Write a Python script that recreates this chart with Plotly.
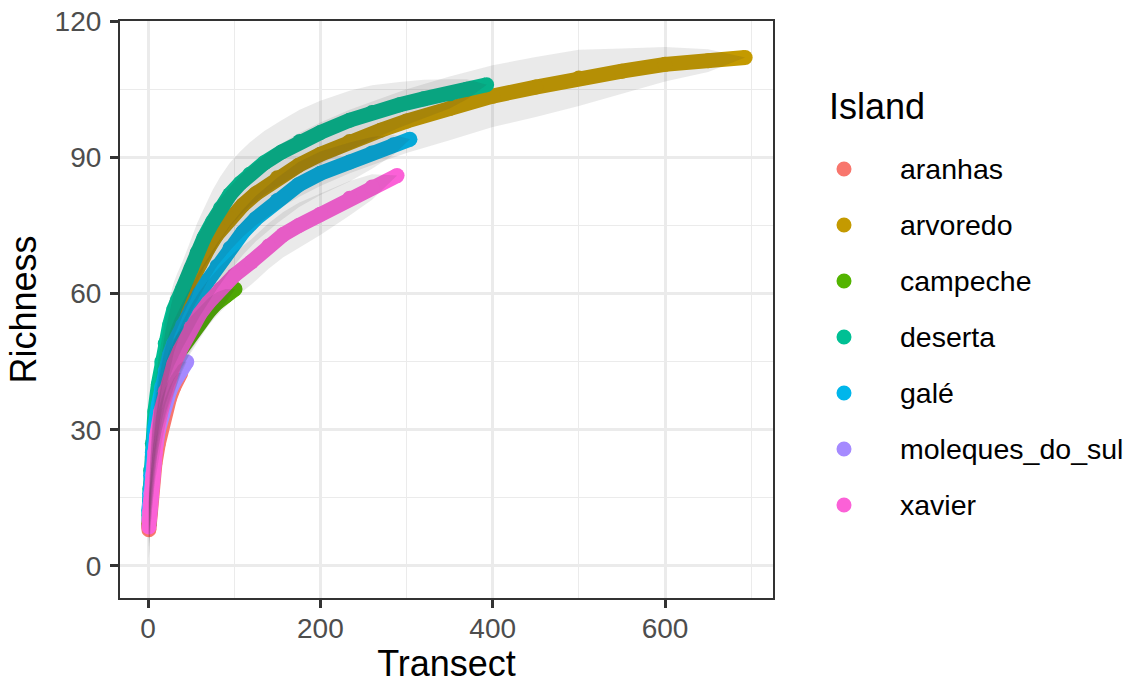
import plotly.graph_objects as go

# Island names and their discrete hue palette
islands = ["aranhas", "arvoredo", "campeche", "deserta", "galé", "moleques_do_sul", "xavier"]
island_colors = ["#F8766D", "#C49A00", "#53B400", "#00C094", "#00B6EB", "#A58AFF", "#FB61D7"]

# Species accumulation: transect count, mean richness and standard deviation
aranhas_transect = [1, 2, 3, 5, 8, 12, 16, 20, 25, 30, 35, 38]
aranhas_richness = [8, 11, 13.5, 17, 22.5, 27, 31, 34, 37, 39.5, 41.5, 42.5]
aranhas_sd = [6.5, 5, 4.5, 4, 4, 3.8, 3.5, 3, 2.5, 1.8, 1, 0]

arvoredo_transect = [1, 2, 3, 5, 8, 12, 16, 20, 25, 30, 40, 50, 60, 70, 80, 95, 110, 125, 150,
                     175, 200, 234, 270, 300, 350, 400, 450, 500, 550, 600, 650, 693]
arvoredo_richness = [9, 14, 18, 24, 30, 36, 41, 45, 49.5, 53.5, 59, 63, 66.5, 70, 73, 76.5, 79.5,
                     82, 85.5, 88.3, 90.7, 93.5, 96, 98, 100.8, 103.5, 105.5, 107.5, 109, 110.5,
                     111.3, 112]
arvoredo_sd = [5, 5, 5.5, 5.5, 6, 6, 6, 6.5, 6.5, 6.5, 6.5, 7, 7, 7, 7, 7, 7, 7, 7, 7, 7, 7, 7,
               7, 7, 6.8, 6.6, 6.2, 5, 3.8, 2.5, 0]

campeche_transect = [1, 2, 3, 5, 8, 12, 16, 20, 25, 30, 40, 50, 60, 70, 80, 90, 101]
campeche_richness = [9, 13, 16, 21, 27, 32.5, 36.5, 40, 43, 45.5, 48.5, 51, 53.5, 56, 58, 59.5, 61]
campeche_sd = [5, 4.5, 4.5, 4.5, 4.5, 4.5, 4.5, 4.5, 4.5, 4.5, 4.2, 4, 3.5, 3, 2.3, 1.5, 0]

deserta_transect = [1, 2, 3, 5, 8, 12, 16, 20, 25, 30, 34, 40, 50, 57, 65, 75, 84, 95, 107, 118,
                    135, 155, 176, 200, 234, 260, 292, 320, 350, 370, 393]
deserta_richness = [11, 17, 21, 27, 34, 40, 45, 49, 53, 56.5, 58.5, 61, 65.5, 69, 72.3, 75.8,
                    78.8, 81.8, 84.3, 86.3, 88.8, 91.2, 93.5, 95.5, 98.2, 99.9, 101.6, 102.9, 104,
                    105, 106]
deserta_sd = [5, 5, 5, 5, 5, 5.5, 5.5, 5.5, 6, 6, 6, 6, 6.5, 6.5, 6.5, 7, 7, 7, 7, 7, 7, 7, 7,
              7, 6.5, 6, 5, 4.2, 3.2, 2.2, 0]

gale_transect = [1, 2, 3, 5, 8, 12, 16, 20, 25, 30, 40, 50, 60, 70, 80, 95, 110, 125, 150, 175,
                 200, 234, 260, 285, 304]
gale_richness = [12, 16, 20, 25, 30.5, 35.5, 39.5, 43, 46.5, 49, 53, 56.5, 60, 63, 66, 70, 73.5,
                 76.5, 80.5, 84, 86.5, 89, 91, 92.8, 94]
gale_sd = [5, 5, 5, 5, 5, 5, 5, 5, 5, 5, 5, 5, 5, 5, 5, 5, 5, 5, 5, 5, 4.8, 4.3, 3.5, 2.2, 0]

moleques_transect = [1, 2, 3, 5, 8, 12, 16, 20, 25, 30, 35, 40, 45]
moleques_richness = [10, 13.5, 16, 20, 25, 30, 33.5, 36, 38.5, 40.5, 42.5, 44, 45]
moleques_sd = [5, 4.5, 4.5, 4.5, 4, 4, 3.5, 3.2, 2.8, 2.3, 1.7, 1, 0]

xavier_transect = [1, 2, 3, 5, 8, 10, 15, 20, 30, 37, 50, 60, 70, 84, 100, 120, 140, 157, 175,
                   200, 234, 260, 289]
xavier_richness = [8.6, 12, 14.5, 18.5, 25, 28.5, 34, 38.5, 44.5, 47.5, 52.5, 55.5, 58, 61, 64,
                   67, 70.5, 73, 75, 77.5, 81, 83.5, 86]
xavier_sd = [7, 6, 5.5, 5, 5, 5, 5, 5, 5, 5, 5, 5, 5, 5, 5, 5, 5, 5, 5, 4.6, 3.8, 2.8, 0]

curves = {
    "aranhas": (aranhas_transect, aranhas_richness, aranhas_sd),
    "arvoredo": (arvoredo_transect, arvoredo_richness, arvoredo_sd),
    "campeche": (campeche_transect, campeche_richness, campeche_sd),
    "deserta": (deserta_transect, deserta_richness, deserta_sd),
    "galé": (gale_transect, gale_richness, gale_sd),
    "moleques_do_sul": (moleques_transect, moleques_richness, moleques_sd),
    "xavier": (xavier_transect, xavier_richness, xavier_sd),
}

FONT = "Liberation Sans, Arial, sans-serif"
W, H = 1135, 684
M_L, M_R, M_T, M_B = 120, 362, 21, 86
PLOT_W, PLOT_H = W - M_L - M_R, H - M_T - M_B


def paper_x(px):
    return (px - M_L) / PLOT_W


def paper_y(py):
    return (H - M_B - py) / PLOT_H


fig = go.Figure()

# Thick point trails for every island
for name, col in zip(islands, island_colors):
    t, r, _ = curves[name]
    fig.add_trace(go.Scatter(
        x=t, y=r, mode="lines+markers", name=name, showlegend=False,
        line=dict(color=col, width=15), marker=dict(color=col, size=15),
        hoverinfo="skip"))

# Translucent ±sd ribbons laid over the points
for name in islands:
    t, r, s = curves[name]
    upper = [m + d for m, d in zip(r, s)]
    lower = [max(m - d, 0) for m, d in zip(r, s)]
    fig.add_trace(go.Scatter(
        x=list(t) + list(t)[::-1], y=upper + lower[::-1], mode="lines", fill="toself",
        fillcolor="rgba(51,51,51,0.1)", line=dict(width=0), showlegend=False,
        hoverinfo="skip"))

# Legend: title, colour keys and island labels
legend_shapes = []
legend_notes = [dict(
    text="Island", xref="paper", yref="paper", x=paper_x(827), y=paper_y(107),
    xanchor="left", yanchor="middle", showarrow=False,
    font=dict(family=FONT, size=36, color="black"))]
for i, (name, col) in enumerate(zip(islands, island_colors)):
    row_y = paper_y(169 + 56 * i)
    legend_shapes.append(dict(
        type="circle", xref="paper", yref="paper", xsizemode="pixel", ysizemode="pixel",
        xanchor=paper_x(844), yanchor=row_y, x0=-7.5, x1=7.5, y0=-7.5, y1=7.5,
        fillcolor=col, line=dict(width=0)))
    legend_notes.append(dict(
        text=name, xref="paper", yref="paper", x=paper_x(898), y=row_y,
        xanchor="left", yanchor="middle", showarrow=False,
        font=dict(family=FONT, size=28.5, color="black")))

axis_common = dict(
    showgrid=True, gridcolor="#EBEBEB", gridwidth=2.8, zeroline=False,
    showline=True, mirror=True, linecolor="#333333", linewidth=2.2,
    ticks="outside", ticklen=8, tickwidth=2.5, tickcolor="#333333",
    tickfont=dict(family=FONT, size=28, color="#4D4D4D"),
    automargin=False,
)

fig.update_layout(
    width=W, height=H,
    margin=dict(l=M_L, r=M_R, t=M_T, b=M_B),
    paper_bgcolor="white", plot_bgcolor="white",
    font=dict(family=FONT, color="black"),
    showlegend=False,
    xaxis=dict(range=[-32.5, 725.3], tickvals=[0, 200, 400, 600],
               minor=dict(dtick=100, tick0=0, showgrid=True, gridcolor="#EBEBEB", gridwidth=1.4),
               title=dict(text="Transect", font=dict(family=FONT, size=36, color="black"), standoff=16),
               ticklabelstandoff=-4, **axis_common),
    yaxis=dict(range=[-7.05, 120.05], tickvals=[0, 30, 60, 90, 120],
               minor=dict(dtick=15, tick0=0, showgrid=True, gridcolor="#EBEBEB", gridwidth=1.4),
               title=dict(text="Richness", font=dict(family=FONT, size=36, color="black"), standoff=7),
               ticklabelstandoff=3, **axis_common),
    shapes=legend_shapes,
    annotations=legend_notes,
)

fig.write_html("out.html")
